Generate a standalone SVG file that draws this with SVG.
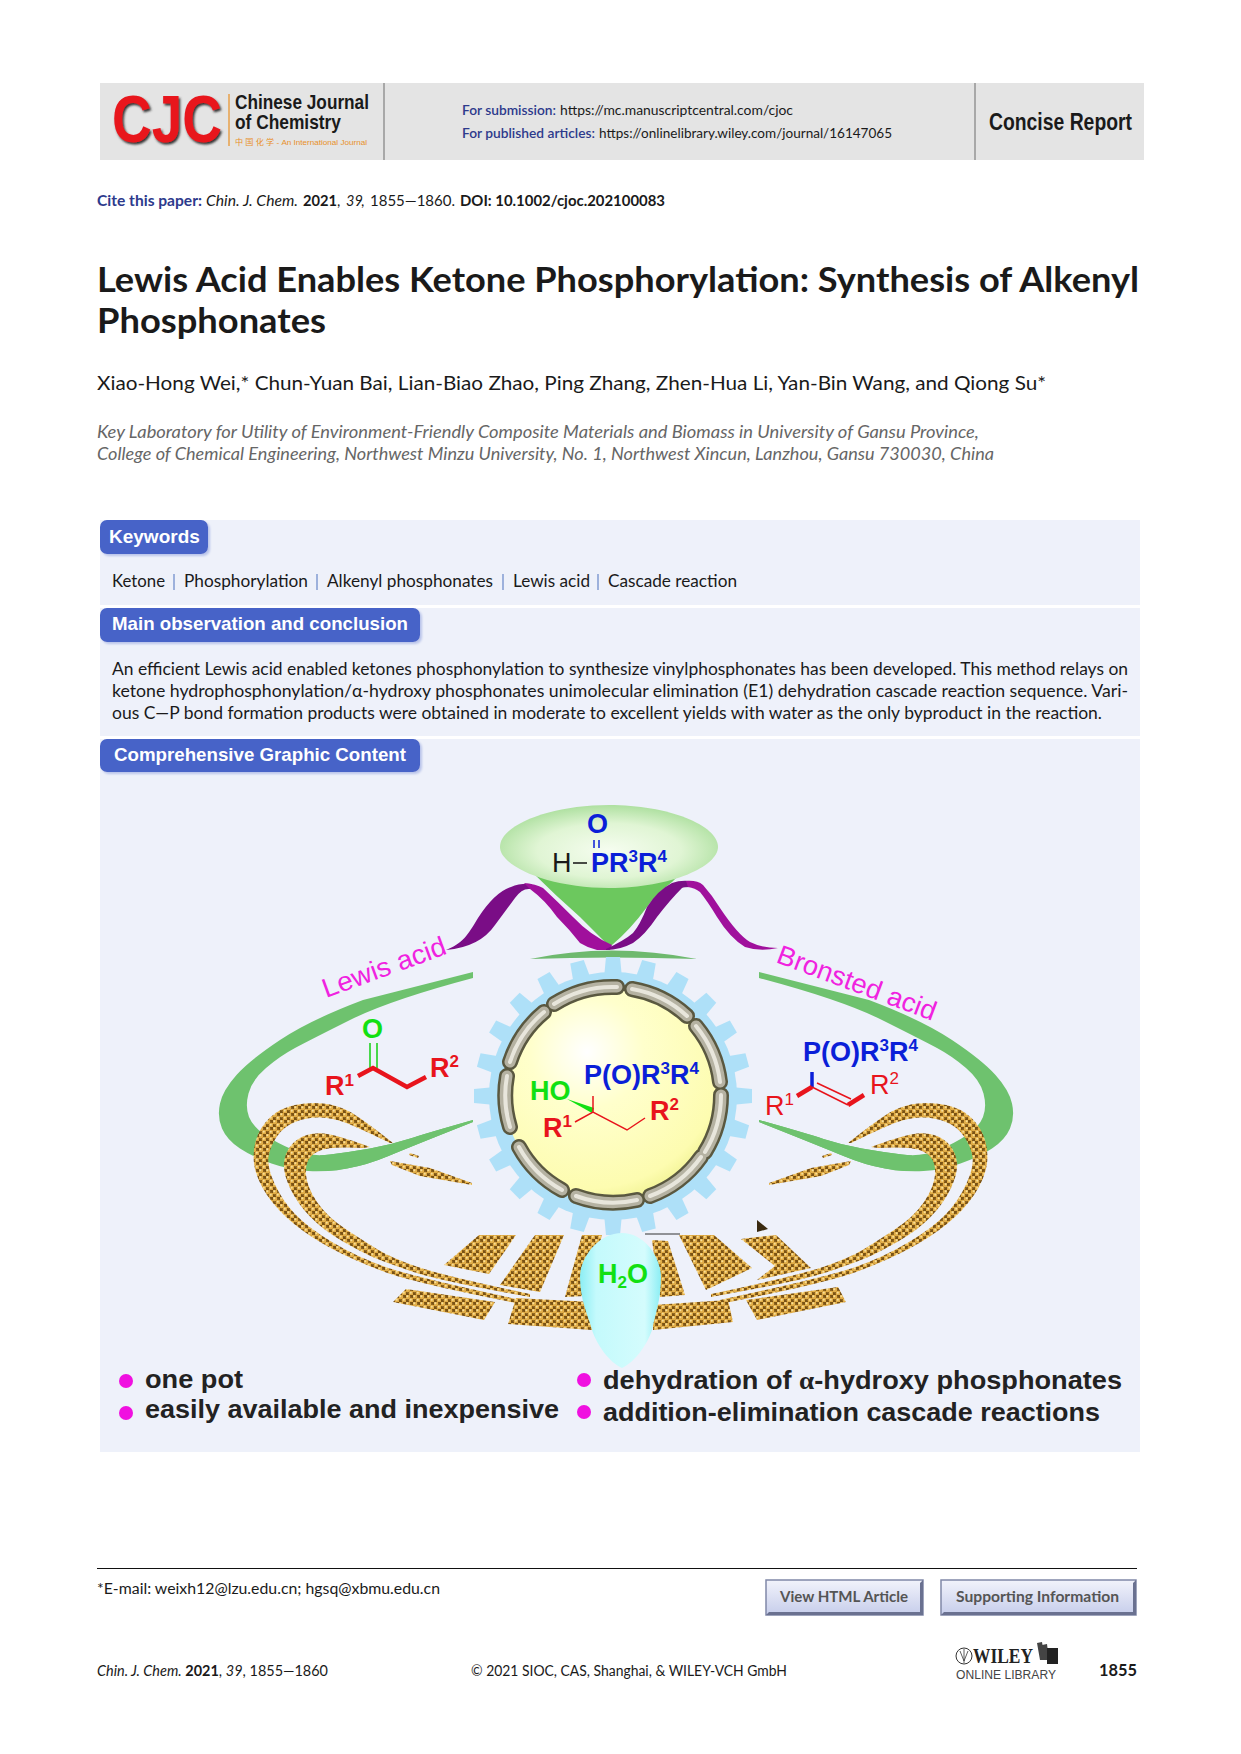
<svg xmlns="http://www.w3.org/2000/svg" xmlns:xlink="http://www.w3.org/1999/xlink" width="1241" height="1754" viewBox="0 0 1241 1754">
<style>
text{font-family:"Lato","Liberation Sans",sans-serif;fill:#1a1a1a}
.b{font-weight:700}.i{font-style:italic}
.body{font-size:17px}
.kw{font-size:17.5px}
.sep{fill:#9db1dc}
.aff{font-size:17px;font-style:italic;fill:#666}
.ar{font-family:"Liberation Sans",sans-serif}
.badge{fill:#4663c8;filter:url(#bs)}
.bt{font-family:"Liberation Sans",sans-serif;font-weight:700;fill:#fff;font-size:19px}
.chem{font-family:"Liberation Sans",sans-serif;font-weight:700;font-size:27px}
.sup{font-size:17px}
.red{fill:#e8141c}.blue{fill:#0a1fd8}.green{fill:#12e012}
.acid{font-family:"Liberation Sans",sans-serif;font-size:27px;fill:#f022e0}
.bul{font-family:"Liberation Sans",sans-serif;font-weight:700;font-size:26px;fill:#222}
.dot{fill:#f010e0}
.gold{fill:url(#gold)}
.sw{fill:#6ec26e}
.hd{font-size:13px}
.hb{font-size:13px;fill:#2d3a8c;font-weight:600}
.btn{font-size:15.5px;font-weight:700;fill:#555}
.foot{font-size:14.5px}
.dk{fill:#7a0d86}.mg{fill:#a0109c}
</style>
<defs>
<filter id="bs" x="-5%" y="-10%" width="115%" height="130%"><feDropShadow dx="2" dy="2" stdDeviation="0.8" flood-color="#b9c4ea"/></filter>
<filter id="ds" x="-5%" y="-5%" width="115%" height="115%"><feDropShadow dx="1.500" dy="2" stdDeviation="1.200" flood-color="#333"/></filter>
<pattern id="gold" width="7" height="7" patternUnits="userSpaceOnUse">
<rect width="7" height="7" fill="#7a5214"/>
<g fill="#e2ae48"><circle cx="1.750" cy="1.750" r="2.500"/><circle cx="5.250" cy="5.250" r="2.500"/></g>
<g fill="#f8e09a"><circle cx="1.300" cy="1.300" r="1"/><circle cx="4.800" cy="4.800" r="1"/></g>
</pattern>
<radialGradient id="fun" cx="50%" cy="55%" r="55%"><stop offset="0" stop-color="#f6fdf0"/><stop offset=".6" stop-color="#e0f5d4"/><stop offset="1" stop-color="#aee0a0"/></radialGradient>
<radialGradient id="yel" cx="38%" cy="30%" r="75%"><stop offset="0" stop-color="#ffffff"/><stop offset=".35" stop-color="#ffffcc"/><stop offset=".85" stop-color="#fdfcb0"/><stop offset="1" stop-color="#eef08c"/></radialGradient>
<linearGradient id="drop" x1="0" x2="1" y1="0" y2="0"><stop offset="0" stop-color="#8ceef4"/><stop offset=".2" stop-color="#c4fafc"/><stop offset=".8" stop-color="#d4fcfd"/><stop offset="1" stop-color="#8ceef4"/></linearGradient>
<linearGradient id="btn" x1="0" x2="0" y1="0" y2="1"><stop offset="0" stop-color="#f2f3fb"/><stop offset="1" stop-color="#c6cdeb"/></linearGradient>
<path id="leftGold" d="M393 1143Q360 1117 348.500 1111Q337 1105 323.500 1103.500Q310 1102 295 1105Q280 1108 270 1117.500Q260 1127 256 1140Q252 1153 254.500 1166.500Q257 1180 267 1195Q277 1210 293.500 1223.500Q310 1237 331.500 1248.500Q353 1260 383.500 1271.500Q414 1283 521 1304L521 1300Q414 1277 385.500 1267Q357 1257 332 1242Q307 1227 294.500 1213.500Q282 1200 274.500 1183.500Q267 1167 268.500 1157Q270 1147 276.500 1137Q283 1127 295 1122Q307 1117 320 1117.500Q333 1118 345 1122.500Q357 1127 390 1143ZM370 1147Q343 1137 330 1134.500Q317 1132 307 1135Q297 1138 291 1145.500Q285 1153 284 1163Q283 1173 290 1188Q297 1203 310 1216.500Q323 1230 343 1241.500Q363 1253 375 1258Q387 1263 413.500 1272Q440 1281 530 1297L530 1294Q440 1275 415 1266Q390 1257 378.500 1250Q367 1243 347 1230Q327 1217 317 1202Q307 1187 306 1175Q305 1163 311 1156.500Q317 1150 328.500 1148.500Q340 1147 363 1148ZM390 1161L430 1168L472 1183L472 1185L420 1176L392 1165ZM410 1153L419 1156L418 1158L409 1155Z"/>
<path id="leftGreen" d="M473 972L363 1000Q310 1020 280 1040Q250 1060 236.500 1075Q223 1090 220 1103.500Q217 1117 222 1128.500Q227 1140 240 1148.500Q253 1157 271.500 1163.500Q290 1170 308.500 1171Q327 1172 347 1168.500Q367 1165 388.500 1156Q410 1147 473 1122L473 1120Q427 1133 408.500 1139Q390 1145 370 1148.500Q350 1152 330 1154.500Q310 1157 293.500 1150Q277 1143 265 1135Q253 1127 249 1117Q245 1107 248.500 1093.500Q252 1080 266 1068Q280 1056 295 1048Q310 1040 350 1020Q390 1000 473 978Z"/>
<path id="leftTail" d="M473 1120Q427 1133 408.500 1139Q390 1145 370 1148.500Q350 1152 330 1154.500L320 1155.500L320 1171Q335 1171.500 347 1168.500Q367 1165 388.500 1156Q410 1147 473 1122Z"/>
<path id="tooth" d="M-9 -118L-7 -139H7L9 -118Z" fill="#aee0f8"/>
<path id="segs" d="M554 1004A108 108 0 0 1 617 987M632 989A108 108 0 0 1 687 1016M696 1026A108 108 0 0 1 720 1082M721 1095A108 108 0 0 1 705 1152M701 1157A108 108 0 0 1 650 1196M637 1200A108 108 0 0 1 576 1196M562 1190A108 108 0 0 1 519 1147M510 1127A108 108 0 0 1 507 1076M510 1062A108 108 0 0 1 544 1012"/>
</defs>

<rect width="1241" height="1754" fill="#fff"/>

<g id="header">
<rect x="100" y="83" width="1044" height="77" fill="#e4e4e4"/>
<path d="M384 83V160M975 83V160" stroke="#a8a8a8" stroke-width="2" fill="none"/>
<text class="ar b" x="112" y="142" font-size="66" textLength="110" lengthAdjust="spacingAndGlyphs" style="fill:#e8141c;filter:url(#ds)">CJC</text>
<path d="M229 94V146" stroke="#e8a04a" stroke-width="1.500"/>
<text class="ar b" x="235" y="109" font-size="21" textLength="134" lengthAdjust="spacingAndGlyphs">Chinese Journal</text>
<text class="ar b" x="235" y="129" font-size="21" textLength="106" lengthAdjust="spacingAndGlyphs">of Chemistry</text>
<text x="235" y="145" font-size="7.500" textLength="132" lengthAdjust="spacingAndGlyphs" style="font-family:'Liberation Sans','Noto Sans CJK SC',sans-serif;fill:#e8902a">中 国 化 学 - An International Journal</text>
<text class="hb" x="462" y="115" textLength="94" lengthAdjust="spacingAndGlyphs">For submission:</text>
<text class="hd" x="560" y="115" textLength="233" lengthAdjust="spacingAndGlyphs">https://mc.manuscriptcentral.com/cjoc</text>
<text class="hb" x="462" y="138" textLength="133" lengthAdjust="spacingAndGlyphs">For published articles:</text>
<text class="hd" x="599" y="138" textLength="293" lengthAdjust="spacingAndGlyphs">https://onlinelibrary.wiley.com/journal/16147065</text>
<text class="ar b" x="989" y="130" font-size="23" textLength="143" lengthAdjust="spacingAndGlyphs">Concise Report</text>
</g>

<g id="citation" font-size="14.500">
<text class="b" x="97" y="206" textLength="105" lengthAdjust="spacingAndGlyphs" style="fill:#2d3a8c">Cite this paper:</text>
<text class="i" x="206" y="206" textLength="92" lengthAdjust="spacingAndGlyphs">Chin. J. Chem.</text>
<text class="b" x="303" y="206" textLength="34" lengthAdjust="spacingAndGlyphs">2021</text>
<text x="337" y="206">,</text>
<text class="i" x="346" y="206">39</text>
<text x="361" y="206">,</text>
<text x="370" y="206" textLength="85" lengthAdjust="spacingAndGlyphs">1855—1860.</text>
<text class="b" x="460" y="206" textLength="205" lengthAdjust="spacingAndGlyphs">DOI: 10.1002/cjoc.202100083</text>
</g>

<g id="title" class="b" font-size="34">
<text x="97" y="292" textLength="1042" lengthAdjust="spacingAndGlyphs">Lewis Acid Enables Ketone Phosphorylation: Synthesis of Alkenyl</text>
<text x="97" y="333" textLength="229" lengthAdjust="spacingAndGlyphs">Phosphonates</text>
</g>

<text id="authors" x="97" y="390" font-size="20" textLength="949" lengthAdjust="spacingAndGlyphs">Xiao-Hong Wei,* Chun-Yuan Bai, Lian-Biao Zhao, Ping Zhang, Zhen-Hua Li, Yan-Bin Wang, and Qiong Su*</text>
<g id="affiliation">
<text class="aff" x="97" y="438" textLength="882" lengthAdjust="spacingAndGlyphs">Key Laboratory for Utility of Environment-Friendly Composite Materials and Biomass in University of Gansu Province,</text>
<text class="aff" x="97" y="460" textLength="897" lengthAdjust="spacingAndGlyphs">College of Chemical Engineering, Northwest Minzu University, No. 1, Northwest Xincun, Lanzhou, Gansu 730030, China</text>
</g>

<g id="panels" fill="#eef1fa">
<rect x="100" y="520" width="1040" height="85"/>
<rect x="100" y="608" width="1040" height="128"/>
<rect x="100" y="739" width="1040" height="713"/>
</g>

<g id="keywords">
<rect class="badge" x="100" y="520" width="108" height="34" rx="7"/>
<text class="bt" x="109" y="543">Keywords</text>
<text class="kw" x="112" y="587" textLength="53" lengthAdjust="spacingAndGlyphs">Ketone</text>
<rect class="sep" x="173" y="574" width="2" height="16"/>
<text class="kw" x="184" y="587" textLength="124" lengthAdjust="spacingAndGlyphs">Phosphorylation</text>
<rect class="sep" x="316" y="574" width="2" height="16"/>
<text class="kw" x="327" y="587" textLength="166" lengthAdjust="spacingAndGlyphs">Alkenyl phosphonates</text>
<rect class="sep" x="502" y="574" width="2" height="16"/>
<text class="kw" x="513" y="587" textLength="77" lengthAdjust="spacingAndGlyphs">Lewis acid</text>
<rect class="sep" x="597" y="574" width="2" height="16"/>
<text class="kw" x="608" y="587" textLength="129" lengthAdjust="spacingAndGlyphs">Cascade reaction</text>
</g>

<g id="conclusion">
<rect class="badge" x="100" y="608" width="320" height="34" rx="7"/>
<text class="bt" x="112" y="630" textLength="296" lengthAdjust="spacingAndGlyphs">Main observation and conclusion</text>
<text class="body" x="112" y="675" textLength="1016" lengthAdjust="spacingAndGlyphs">An efficient Lewis acid enabled ketones phosphonylation to synthesize vinylphosphonates has been developed. This method relays on</text>
<text class="body" x="112" y="697" textLength="1016" lengthAdjust="spacingAndGlyphs">ketone hydrophosphonylation/α-hydroxy phosphonates unimolecular elimination (E1) dehydration cascade reaction sequence. Vari-</text>
<text class="body" x="112" y="719" textLength="990" lengthAdjust="spacingAndGlyphs">ous C—P bond formation products were obtained in moderate to excellent yields with water as the only byproduct in the reaction.</text>
</g>

<g id="graphic-heading">
<rect class="badge" x="100" y="739" width="320" height="33" rx="7"/>
<text class="bt" x="114" y="761" textLength="292" lengthAdjust="spacingAndGlyphs">Comprehensive Graphic Content</text>
</g>

<g id="green-swoosh">
<use href="#leftGreen" class="sw"/>
<use href="#leftGreen" class="sw" transform="translate(1232 0) scale(-1 1)"/>
</g>

<g id="gold-loops">
<use href="#leftGold" class="gold"/>
<use href="#leftGold" class="gold" transform="translate(1241 0) scale(-1 1)"/>
<g class="gold">
<path d="M479 1235L516 1235L489 1274L444 1265Z"/>
<path d="M535 1235L564 1235L540 1292L500 1285Z"/>
<path d="M582 1235L602 1235L585 1296L565 1297Z"/>
<path d="M652 1240L668 1241L685 1295L660 1297Z"/>
<path d="M679 1235L714 1235L752 1268L706 1290Z"/>
<path d="M741 1239L776 1235L811 1268L757 1280L775 1266Z"/>
<path d="M406 1289L495 1302L484 1320L393 1302Z"/>
<path d="M516 1298L592 1302L592 1330L508 1324Z"/>
<path d="M653 1305L728 1300L733 1322L653 1330Z"/>
<path d="M746 1300L838 1287L846 1302L757 1320Z"/>
</g>
<path d="M757 1220L768 1229L757 1232Z" fill="#3a2a10"/>
<path d="M645 1234H680" stroke="#333" stroke-width="1"/>
</g>

<g id="green-tails">
<use href="#leftTail" class="sw"/>
<use href="#leftTail" class="sw" transform="translate(1232 0) scale(-1 1)"/>
</g>

<g id="funnel">
<path d="M532 872L682 872L672 882Q655 895 647 907Q630 930 612 945L608 945Q595 932 580 917Q555 895 532 872Z" fill="#6cc85e"/>
<path d="M500 847C500 825 550 805 609 805C668 805 718 825 718 847C718 866 672 888 609 888C548 888 500 866 500 847Z" fill="url(#fun)"/>
<path d="M530 959Q610 942 697 959Q610 956 530 959Z" fill="#6eb96e"/>
</g>

<g id="purple-ribbon">
<path class="dk" d="M446 950C462 944 468 935 478 918Q495 892 511 887Q520 883 532 884L530 889Q522 888 515 898L495 925Q480 947 446 950Z"/>
<path class="mg" d="M524 883Q536 884 543 888Q558 902 573 917Q590 935 612 945L610 950L597 950Q588 948 580 943Q570 930 557 917Q545 900 530 889Z"/>
<path class="dk" d="M606 949Q625 940 633 933Q640 925 647 907Q658 890 672 883Q680 880 690 881L690 887Q684 887 682 888Q670 900 657 917Q645 935 633 943Q620 950 606 950Z"/>
<path class="mg" d="M686 881Q697 880 703 885Q712 895 720 908Q738 935 750 942Q762 948 778 948Q760 952 745 947Q730 938 717 917Q708 902 700 892Q695 888 688 887Z"/>
</g>

<text id="lewis-acid" class="acid" transform="translate(326 998) rotate(-20)" textLength="130" lengthAdjust="spacingAndGlyphs">Lewis acid</text>
<text id="bronsted-acid" class="acid" transform="translate(775 962) rotate(20.500)" textLength="168" lengthAdjust="spacingAndGlyphs">Bronsted acid</text>

<g id="gear">
<g transform="translate(613 1096)">
<circle r="124" fill="#aee0f8"/>
<use href="#tooth"/><use href="#tooth" transform="rotate(15)"/><use href="#tooth" transform="rotate(30)"/><use href="#tooth" transform="rotate(45)"/><use href="#tooth" transform="rotate(60)"/><use href="#tooth" transform="rotate(75)"/><use href="#tooth" transform="rotate(90)"/><use href="#tooth" transform="rotate(105)"/><use href="#tooth" transform="rotate(120)"/><use href="#tooth" transform="rotate(135)"/><use href="#tooth" transform="rotate(150)"/><use href="#tooth" transform="rotate(165)"/><use href="#tooth" transform="rotate(180)"/><use href="#tooth" transform="rotate(195)"/><use href="#tooth" transform="rotate(210)"/><use href="#tooth" transform="rotate(225)"/><use href="#tooth" transform="rotate(240)"/><use href="#tooth" transform="rotate(255)"/><use href="#tooth" transform="rotate(270)"/><use href="#tooth" transform="rotate(285)"/><use href="#tooth" transform="rotate(300)"/><use href="#tooth" transform="rotate(315)"/><use href="#tooth" transform="rotate(330)"/><use href="#tooth" transform="rotate(345)"/>
</g>
<ellipse cx="613" cy="1095" rx="108" ry="107" fill="url(#yel)"/>
<g fill="none" stroke-linecap="round">
<use href="#segs" stroke="#5a5840" stroke-width="16"/>
<use href="#segs" stroke="#b5b2a2" stroke-width="11"/>
<use href="#segs" stroke="#e8e6dc" stroke-width="4"/>
</g>
</g>

<g id="reagent">
<text class="chem blue" x="587" y="833" font-size="26">O</text>
<path d="M594 840V848M599 840V848" stroke="#0a1fd8" stroke-width="1.500"/>
<text class="chem" x="552" y="872" style="font-weight:400">H</text>
<path d="M573 863H587" stroke="#111" stroke-width="1.500"/>
<text class="chem blue" x="591" y="872">PR<tspan class="sup" dy="-10">3</tspan><tspan dy="10">R</tspan><tspan class="sup" dy="-10">4</tspan></text>
</g>

<g id="ketone">
<text class="chem green" x="362" y="1038">O</text>
<path d="M370 1043V1068M377 1043V1068" stroke="#12d012" stroke-width="1.500"/>
<path d="M358 1076L373 1068L407 1087L426 1077" fill="none" stroke="#e8141c" stroke-width="4.500"/>
<text class="chem red" x="325" y="1095">R<tspan class="sup" dy="-9">1</tspan></text>
<text class="chem red" x="430" y="1077">R<tspan class="sup" dy="-10">2</tspan></text>
</g>

<g id="hydroxy-phosphonate">
<text class="chem blue" x="584" y="1084">P(O)R<tspan class="sup" dy="-10">3</tspan><tspan dy="10">R</tspan><tspan class="sup" dy="-10">4</tspan></text>
<text class="chem green" x="530" y="1100">HO</text>
<path d="M567 1099L594 1108L592 1113Z" fill="#12e012"/>
<path d="M593 1096V1112M575 1122L593 1112L627 1130L645 1118" fill="none" stroke="#e8141c" stroke-width="1.500"/>
<text class="chem red" x="543" y="1137">R<tspan class="sup" dy="-10">1</tspan></text>
<text class="chem red" x="650" y="1120">R<tspan class="sup" dy="-10">2</tspan></text>
</g>

<g id="alkenyl-phosphonate">
<text class="chem blue" x="803" y="1061">P(O)R<tspan class="sup" dy="-10">3</tspan><tspan dy="10">R</tspan><tspan class="sup" dy="-10">4</tspan></text>
<path d="M812 1072V1087" stroke="#0a1fd8" stroke-width="3.500"/>
<path d="M797 1096L812 1087" stroke="#e8141c" stroke-width="4.500"/>
<path d="M812 1087L848 1105M817 1083L851 1099" stroke="#e8141c" stroke-width="1.500"/>
<path d="M848 1105L864 1095" stroke="#e8141c" stroke-width="4.500"/>
<text class="chem red" x="765" y="1115" style="font-weight:400">R<tspan class="sup" dy="-10">1</tspan></text>
<text class="chem red" x="870" y="1094" style="font-weight:400">R<tspan class="sup" dy="-10">2</tspan></text>
</g>

<g id="water">
<path d="M622 1233C645 1233 661 1258 661 1277C661 1300 655 1315 652 1330C647 1345 635 1362 622 1368C609 1362 597 1345 592 1330C588 1315 580 1300 580 1277C580 1258 598 1233 622 1233Z" fill="url(#drop)"/>
<text class="chem green" x="598" y="1283" font-size="28">H<tspan class="sup" dy="5">2</tspan><tspan dy="-5">O</tspan></text>
</g>

<g id="bullets">
<circle class="dot" cx="126" cy="1381" r="7"/>
<circle class="dot" cx="126" cy="1413" r="7"/>
<circle class="dot" cx="584" cy="1380" r="7"/>
<circle class="dot" cx="584" cy="1412" r="7"/>
<text class="bul" x="145" y="1388" textLength="98" lengthAdjust="spacingAndGlyphs">one pot</text>
<text class="bul" x="145" y="1418" textLength="414" lengthAdjust="spacingAndGlyphs">easily available and inexpensive</text>
<text class="bul" x="603" y="1389" textLength="519" lengthAdjust="spacingAndGlyphs">dehydration of <tspan style="font-family:'Liberation Serif',serif">α</tspan>-hydroxy phosphonates</text>
<text class="bul" x="603" y="1421" textLength="497" lengthAdjust="spacingAndGlyphs">addition-elimination cascade reactions</text>
</g>

<g id="footer">
<path d="M97 1568.500H1137" stroke="#111" stroke-width="1.200"/>
<text class="foot" x="97" y="1594" textLength="343" lengthAdjust="spacingAndGlyphs">*E-mail: weixh12@lzu.edu.cn; hgsq@xbmu.edu.cn</text>
<g id="view-html">
<rect x="766" y="1580" width="157" height="35" fill="url(#btn)" stroke="#8088a8" stroke-width="1.500"/>
<path d="M920 1583L923 1580V1615H766L769 1612H920Z" fill="#6a7190"/>
<text class="btn" x="780" y="1602" textLength="128" lengthAdjust="spacingAndGlyphs">View HTML Article</text>
</g>
<g id="supporting-info">
<rect x="941" y="1580" width="195" height="35" fill="url(#btn)" stroke="#8088a8" stroke-width="1.500"/>
<path d="M1133 1583L1136 1580V1615H941L944 1612H1133Z" fill="#6a7190"/>
<text class="btn" x="956" y="1602" textLength="163" lengthAdjust="spacingAndGlyphs">Supporting Information</text>
</g>
<text class="foot" x="97" y="1676" textLength="231" lengthAdjust="spacingAndGlyphs"><tspan class="i">Chin. J. Chem.</tspan> <tspan class="b">2021</tspan>, <tspan class="i">39</tspan>, 1855—1860</text>
<text class="foot" x="471" y="1676" textLength="316" lengthAdjust="spacingAndGlyphs">© 2021 SIOC, CAS, Shanghai, &amp; WILEY-VCH GmbH</text>
<g id="wiley-logo">
<circle cx="964" cy="1656" r="8" fill="none" stroke="#333" stroke-width="1"/>
<path d="M960 1651L964 1661L968 1651M964 1649V1663" fill="none" stroke="#333" stroke-width=".8"/>
<text x="973" y="1663" font-size="20" textLength="60" lengthAdjust="spacingAndGlyphs" style="font-family:'Liberation Serif',serif;font-weight:700;fill:#222">WILEY</text>
<path d="M1037 1643L1042 1642L1045 1660H1040ZM1042 1645L1047 1644L1049 1660H1045Z" fill="#444"/>
<path d="M1047 1648H1058V1664H1047Z" fill="#222"/>
<text x="956" y="1679" font-size="12.500" textLength="100" lengthAdjust="spacingAndGlyphs" style="font-family:'Liberation Sans',sans-serif;fill:#444">ONLINE LIBRARY</text>
</g>
<text class="b" x="1099" y="1676" font-size="17" textLength="38" lengthAdjust="spacingAndGlyphs">1855</text>
</g>
</svg>
